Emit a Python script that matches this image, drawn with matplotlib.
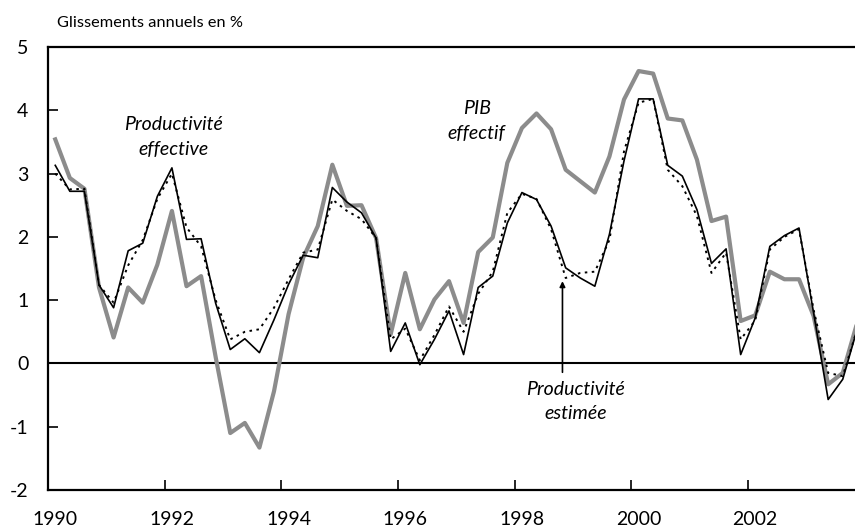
import numpy as np
import matplotlib.pyplot as plt

plt.rcParams["font.family"] = ["Lato", "DejaVu Sans"]
plt.rcParams["axes.unicode_minus"] = False

# glissements annuels trimestriels, 1990T1 -> 2003T4
annee_debut = 1990
pib_effectif = [3.54, 2.93, 2.76, 1.20, 0.41, 1.20, 0.96, 1.56, 2.41, 1.22,
                1.38, 0.10, -1.10, -0.94, -1.33, -0.44, 0.78, 1.67, 2.17, 3.14,
                2.49, 2.50, 1.98, 0.46, 1.43, 0.54, 1.01, 1.30, 0.64, 1.76,
                1.99, 3.17, 3.72, 3.95, 3.70, 3.06, 2.88, 2.70, 3.27, 4.17,
                4.62, 4.58, 3.87, 3.84, 3.22, 2.25, 2.32, 0.67, 0.76, 1.45,
                1.33, 1.33, 0.75, -0.33, -0.15, 0.65]
prod_effective = [3.13, 2.72, 2.72, 1.24, 0.88, 1.78, 1.90, 2.64, 3.09, 1.96,
                  1.97, 0.95, 0.22, 0.39, 0.17, 0.69, 1.25, 1.71, 1.67, 2.78,
                  2.55, 2.38, 1.98, 0.19, 0.64, -0.02, 0.38, 0.83, 0.14, 1.20,
                  1.38, 2.22, 2.70, 2.59, 2.17, 1.51, 1.35, 1.22, 2.04, 3.20,
                  4.18, 4.18, 3.13, 2.96, 2.43, 1.58, 1.81, 0.14, 0.72, 1.85,
                  2.02, 2.14, 0.80, -0.57, -0.25, 0.55]
prod_estimee = [3.00, 2.75, 2.76, 1.24, 0.96, 1.55, 1.95, 2.60, 3.00, 2.15,
                1.85, 1.00, 0.38, 0.50, 0.54, 0.88, 1.33, 1.75, 1.80, 2.59,
                2.41, 2.28, 1.98, 0.38, 0.55, 0.05, 0.45, 0.90, 0.50, 1.10,
                1.45, 2.38, 2.68, 2.60, 2.12, 1.35, 1.43, 1.45, 1.95, 3.35,
                4.12, 4.18, 3.06, 2.80, 2.33, 1.43, 1.75, 0.38, 0.68, 1.80,
                2.00, 2.12, 0.85, -0.15, -0.20, 0.55]
annees_ticks = [1990, 1992, 1994, 1996, 1998, 2000, 2002]

# points au milieu de chaque trimestre
dates = annee_debut + 0.125 + 0.25 * np.arange(len(pib_effectif))

fig = plt.figure(figsize=(8.55, 5.31), dpi=100)
ax = fig.add_axes([0.0561, 0.0772, 0.9439, 0.8343])

ax.axhline(0, color="black", lw=1.5, zorder=1)
ax.plot(dates, pib_effectif, color="#8c8c8c", lw=3.0, zorder=2)
ax.plot(dates, prod_estimee, color="black", lw=1.4, ls=(0, (1.3, 2.3)), zorder=3)
ax.plot(dates, prod_effective, color="black", lw=1.2, zorder=4)

ax.set_xlim(1990, 2003.835)
ax.set_ylim(-2, 5)
ax.set_yticks(range(-2, 6))
ax.set_xticks(annees_ticks)
ax.set_xticklabels([])
ax.set_xticks([a + 0.125 for a in annees_ticks], minor=True)
ax.set_xticklabels([str(a) for a in annees_ticks], minor=True)
ax.tick_params(axis="x", which="major", direction="in", length=7, width=1.2)
ax.tick_params(axis="x", which="minor", length=0, pad=15, labelsize=14)
ax.tick_params(axis="y", direction="in", length=7, width=1.2, pad=14, labelsize=14)

for cote in ["left", "bottom", "top"]:
    ax.spines[cote].set_linewidth(1.6)
ax.spines["right"].set_visible(False)

fig.text(57 / 855, 1 - 23 / 531, "Glissements annuels en %", fontsize=11.8,
         va="center", ha="left")

ax.text(1992.15, 3.58, "Productivité\neffective", style="italic", fontsize=14,
        ha="center", va="center", linespacing=1.55)
ax.text(1997.35, 3.83, "PIB\neffectif", style="italic", fontsize=14,
        ha="center", va="center", linespacing=1.55)
ax.text(1999.05, -0.60, "Productivité\nestimée", style="italic", fontsize=14,
        ha="center", va="center", linespacing=1.55)
ax.annotate("", xy=(1998.82, 1.30), xytext=(1998.82, -0.14),
            arrowprops=dict(arrowstyle="-|>", color="black", lw=1.2,
                            mutation_scale=8, shrinkA=0, shrinkB=0))

fig.savefig("out.png", dpi=100)
